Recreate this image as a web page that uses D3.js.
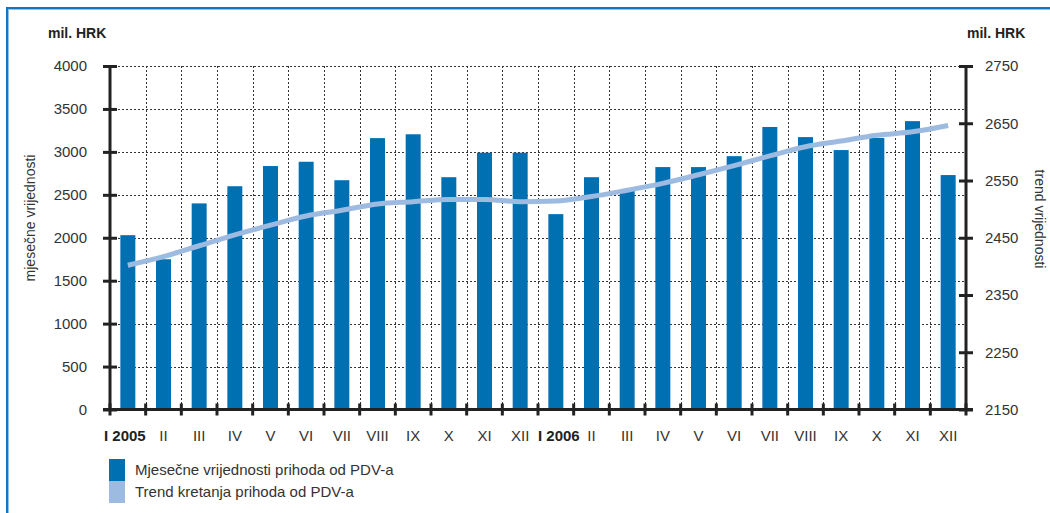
<!DOCTYPE html>
<html>
<head>
<meta charset="utf-8">
<script src="https://cdn.jsdelivr.net/npm/d3@7"></script>
<style>
  html, body { margin: 0; padding: 0; background: #fff; }
  svg { display: block; }
  text { font-family: "Liberation Sans", Arial, sans-serif; fill: #333; }
</style>
</head>
<body>
<svg id="chart" width="1050" height="513"></svg>
<script>
// ---- data ----
const monthLabels = ["I 2005","II","III","IV","V","VI","VII","VIII","IX","X","XI","XII",
                     "I 2006","II","III","IV","V","VI","VII","VIII","IX","X","XI","XII"];
const monthlyValues = [2030,1750,2400,2600,2835,2885,2670,3160,3205,2705,2990,2990,
                       2275,2705,2555,2823,2823,2950,3290,3172,3021,3162,3358,2730];
const trendValues = [2402,2417,2436,2455,2472,2488,2498,2509,2513,2517,2517,2513,
                     2514,2522,2533,2545,2560,2576,2593,2609,2619,2629,2635,2646];
const leftTicks = [0,500,1000,1500,2000,2500,3000,3500,4000];
const rightTicks = [2150,2250,2350,2450,2550,2650,2750];
const legendLabels = ["Mjesečne vrijednosti prihoda od PDV-a","Trend kretanja prihoda od PDV-a"];
const unitLabel = "mil. HRK";
const leftTitle = "mjesečne vrijednosti";
const rightTitle = "trend vrijednosti";

// ---- layout ----
const svg = d3.select("#chart");
const X0 = 110, X1 = 966, YT = 66, YB = 409.5;
const barColor = "#0070b2", trendColor = "#9dbbe0", axisColor = "#222";

const idx = d3.range(monthLabels.length);
const x = d3.scaleBand().domain(idx).range([X0, X1]).paddingInner(0.58).paddingOuter(0.29);
const xb = d3.scaleLinear().domain([0, monthLabels.length]).range([X0, X1]);
const yL = d3.scaleLinear().domain([0, 4000]).range([YB, YT]);
const yR = d3.scaleLinear().domain([2150, 2750]).range([YB, YT]);

// frame
svg.append("line").attr("x1", 6).attr("x2", 1050).attr("y1", 8).attr("y2", 8)
  .attr("stroke", "#1a74ba").attr("stroke-width", 2);
svg.append("line").attr("x1", 8).attr("x2", 1050).attr("y1", 9.5).attr("y2", 9.5)
  .attr("stroke", "#8cc2ea").attr("stroke-width", 1);
svg.append("line").attr("x1", 7).attr("x2", 7).attr("y1", 7).attr("y2", 513)
  .attr("stroke", "#1a74ba").attr("stroke-width", 2);
svg.append("line").attr("x1", 8.5).attr("x2", 8.5).attr("y1", 9).attr("y2", 513)
  .attr("stroke", "#8cc2ea").attr("stroke-width", 1);

// grid
const grid = svg.append("g").attr("stroke", "#333").attr("stroke-width", 1)
  .attr("stroke-dasharray", "2,2");
grid.selectAll("line.h").data(leftTicks.filter(d => d > 0)).join("line")
  .attr("x1", X0).attr("x2", X1)
  .attr("y1", d => Math.round(yL(d)) + 0.5).attr("y2", d => Math.round(yL(d)) + 0.5);
grid.selectAll("line.v").data(d3.range(1, monthLabels.length)).join("line")
  .attr("x1", d => Math.round(xb(d)) + 0.5).attr("x2", d => Math.round(xb(d)) + 0.5)
  .attr("y1", YT).attr("y2", YB);

// bars
svg.append("g").selectAll("rect").data(monthlyValues).join("rect")
  .attr("x", (d, i) => x(i)).attr("width", x.bandwidth())
  .attr("y", d => yL(d)).attr("height", d => YB - yL(d))
  .attr("fill", barColor);

// trend line
const line = d3.line()
  .x((d, i) => x(i) + x.bandwidth() / 2)
  .y(d => yR(d))
  .curve(d3.curveMonotoneX);
svg.append("path").datum(trendValues).attr("d", line)
  .attr("fill", "none").attr("stroke", trendColor).attr("stroke-width", 5);

// left axis
const fmt = d3.format("d");
const axL = svg.append("g").attr("transform", `translate(${X0},0)`)
  .call(d3.axisLeft(yL).tickValues(leftTicks).tickFormat(fmt).tickSize(7).tickPadding(16));
axL.select(".domain").remove();
axL.selectAll(".tick line").attr("x1", -7).attr("x2", 7).attr("stroke", axisColor).attr("stroke-width", 3);
axL.selectAll(".tick text").attr("font-size", 15).attr("fill", "#333")
  .attr("font-family", "Liberation Sans, Arial, sans-serif");
svg.append("line").attr("x1", X0).attr("x2", X0).attr("y1", YT - 1).attr("y2", YB + 1)
  .attr("stroke", axisColor).attr("stroke-width", 3);

// right axis
const axR = svg.append("g").attr("transform", `translate(${X1},0)`)
  .call(d3.axisRight(yR).tickValues(rightTicks).tickFormat(fmt).tickSize(7).tickPadding(12));
axR.select(".domain").remove();
axR.selectAll(".tick line").attr("x1", -7).attr("x2", 7).attr("stroke", axisColor).attr("stroke-width", 3);
axR.selectAll(".tick text").attr("font-size", 15).attr("fill", "#333")
  .attr("font-family", "Liberation Sans, Arial, sans-serif");
svg.append("line").attr("x1", X1).attr("x2", X1).attr("y1", YT - 1).attr("y2", YB + 1)
  .attr("stroke", axisColor).attr("stroke-width", 3);

// bottom axis
svg.append("line").attr("x1", X0 - 7).attr("x2", X1 + 7).attr("y1", YB).attr("y2", YB)
  .attr("stroke", axisColor).attr("stroke-width", 3);
svg.append("g").selectAll("line").data(d3.range(0, monthLabels.length + 1)).join("line")
  .attr("x1", d => xb(d)).attr("x2", d => xb(d))
  .attr("y1", YB - 6).attr("y2", YB + 6)
  .attr("stroke", axisColor).attr("stroke-width", 3);
svg.append("g").selectAll("text").data(monthLabels).join("text")
  .attr("x", (d, i) => x(i) + x.bandwidth() / 2 + (d.indexOf(" ") > 0 ? (i === 0 ? -3 : 3) : 0))
  .attr("y", 441)
  .attr("text-anchor", "middle")
  .attr("font-size", 15)
  .attr("font-weight", d => d.indexOf(" ") > 0 ? "bold" : "normal")
  .style("fill", d => d.indexOf(" ") > 0 ? "#222" : "#333")
  .text(d => d);

// unit labels
svg.append("text").attr("x", 48).attr("y", 38).attr("font-size", 14).attr("font-weight", "bold")
  .style("fill", "#222").text(unitLabel);
svg.append("text").attr("x", 967).attr("y", 38).attr("font-size", 14).attr("font-weight", "bold")
  .style("fill", "#222").text(unitLabel);

// axis titles
svg.append("text").attr("transform", "translate(35,218) rotate(-90)")
  .attr("text-anchor", "middle").attr("font-size", 14).text(leftTitle);
svg.append("text").attr("transform", "translate(1035,219) rotate(90)")
  .attr("text-anchor", "middle").attr("font-size", 14).text(rightTitle);

// legend
const legend = svg.append("g");
const legColors = [barColor, trendColor];
legend.selectAll("rect").data(legendLabels).join("rect")
  .attr("x", 109).attr("y", (d, i) => 459 + i * 22).attr("width", 16).attr("height", 22)
  .attr("fill", (d, i) => legColors[i]);
legend.selectAll("text").data(legendLabels).join("text")
  .attr("x", 135).attr("y", (d, i) => 475 + i * 22).attr("font-size", 15).text(d => d);
</script>
</body>
</html>
